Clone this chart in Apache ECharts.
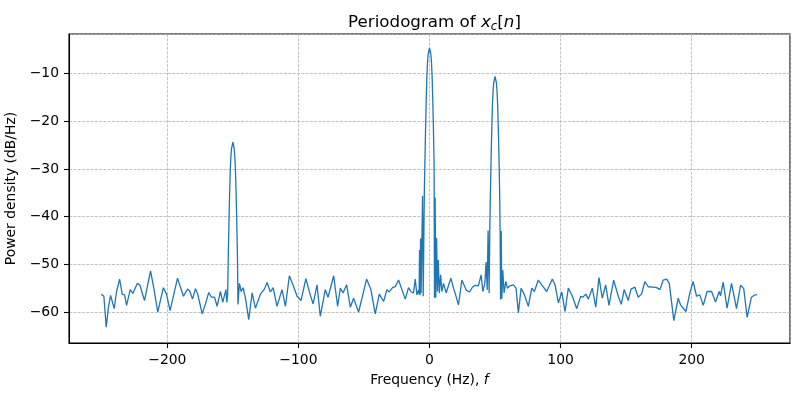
<!DOCTYPE html>
<html>
<head>
<meta charset="utf-8">
<script src="https://cdn.jsdelivr.net/npm/echarts@6/dist/echarts.min.js"></script>
<style>
  html, body { margin: 0; padding: 0; background: #fff; }
  #main { width: 800px; height: 400px; }
</style>
</head>
<body>
<div id="main"></div>
<script>
// frequency axis (Hz)
const freq = [
  -250.4, -248.4, -246.6, -245, -243.3, -242, -240.5, -238.7, -236.4, -234.4,
  -232.6, -231.1, -228.3, -226.3, -222.9, -220.9, -217.4, -212.8, -210.3, -207.3,
  -203, -200.6, -197.9, -192.2, -187.7, -184.6, -182.9, -180.8, -178.5, -176.8,
  -173.4, -170.9, -168.4, -166.3, -164, -162, -159.5, -157.7, -156.2, -155.3,
  -154.6, -154, -153.5, -153, -152.5, -152, -151.5, -151, -150, -149,
  -148.5, -148, -147.5, -147, -146.5, -146.1, -145, -143.7, -142.2, -140.4,
  -137.9, -135.3, -132.8, -129, -125.9, -123.9, -121.4, -119.3, -116.3, -112.5,
  -109.9, -106.9, -103.6, -101, -98, -94.3, -90.9, -88.8, -85.8, -83.3,
  -79.5, -77.4, -73.1, -70.1, -68, -66, -63.2, -60.4, -57.9, -54.1,
  -51.5, -48, -44.7, -41.4, -38.3, -35, -32.5, -30.7, -28.2, -26.1,
  -23.6, -18.5, -16, -13.9, -12.2, -10.9, -9.6, -8.4, -7.9, -7.6,
  -7.2, -6.8, -6.4, -5.8, -5.3, -4.8, -4.3, -3.9, -3.5, -3,
  -2.5, -2, -1.5, -1, 0, 1, 1.5, 2, 2.5, 3,
  3.5, 3.8, 4.3, 4.8, 5.4, 6.1, 6.7, 7.5, 8.5, 9.4,
  10.7, 12.7, 14, 16.3, 18.3, 19.5, 22.1, 24.7, 26, 28,
  30.5, 33, 34.8, 37.3, 39.4, 40.7, 42.2, 43.2, 44, 44.7,
  45.5, 46, 46.5, 47, 47.5, 48, 48.5, 49, 50, 51,
  51.5, 52, 52.5, 53, 53.5, 53.9, 54.2, 54.7, 55.2, 55.9,
  56.9, 58.2, 59.4, 61.5, 64, 65.3, 66, 67.8, 69.9, 72.4,
  75.4, 78, 80, 83, 85.6, 89.4, 90.7, 93.7, 95.8, 98.3,
  100.9, 103.4, 105.9, 109, 112.3, 115.4, 117, 119.2, 121.2, 124.2,
  126.8, 129.3, 131.8, 134.4, 136.9, 140.5, 144, 146.3, 148.5, 151.6,
  153.7, 156.7, 159.2, 161.8, 164.3, 166.9, 170.7, 173.3, 175.8, 178.3,
  180.9, 182.9, 186.4, 189.7, 191.5, 193, 195.6, 198.6, 201.1, 203.7,
  206.2, 208.8, 211.8, 215.2, 218.2, 221, 222, 224, 227, 230.4,
  234.2, 237.3, 239.7, 242.3, 245.6, 248.2, 249.9
];
// power density (dB/Hz)
const power = [
  -56.3, -56.7, -63.2, -59.2, -56.5, -56.9, -59.3, -55.7, -53.1, -56.25,
  -56.4, -58.6, -55.3, -56.1, -54.0, -54.4, -57.6, -51.4, -55, -60,
  -54.9, -56.25, -59.7, -52.9, -56.7, -55.2, -55.6, -57.3, -55.1, -56.25,
  -60.4, -58.3, -55.9, -56.9, -56.9, -58.8, -55.7, -58, -58, -55.3,
  -58, -56.4, -48.4, -41.4, -35.4, -30.4, -27.4, -25.7, -24.4, -25.7,
  -27.4, -30.4, -35.4, -41.4, -48.4, -58.4, -54, -55.7, -54.9, -57.1,
  -61.6, -56, -59.2, -56.25, -55.2, -53.8, -55.8, -54.9, -58.8, -55.3,
  -58.8, -52.4, -54.7, -56.7, -57.6, -53, -56.5, -58.3, -54.3, -60.9,
  -55.3, -56.9, -52.4, -58.8, -55, -56, -54.3, -59, -57.1, -60,
  -57.1, -53.1, -55.3, -60.4, -56.25, -57.8, -55.3, -55.8, -54.9, -54.7,
  -53.3, -57.3, -54.9, -55.8, -56, -53.1, -56.4, -55.4, -56.3, -47,
  -56.5, -44.6, -56, -55.8, -35.6, -56.7, -56.5, -34, -28.6, -21.6,
  -15.6, -10.6, -7.6, -5.9, -4.6, -5.9, -7.6, -10.6, -15.6, -21.6,
  -28.6, -57, -36, -57, -44.5, -55.7, -49.1, -56, -52.2, -55.7,
  -54, -56, -55.7, -52.9, -55, -56, -58.5, -53.3, -53.2, -55.4,
  -55.8, -54.7, -54.4, -54.5, -52.2, -55.7, -54, -49.5, -55.4, -42.9,
  -56, -42.6, -34.6, -27.6, -21.6, -16.6, -13.6, -11.9, -10.6, -11.9,
  -13.6, -16.6, -21.6, -27.6, -34.6, -44, -57.4, -43, -57.2, -51.2,
  -56, -53.6, -55, -54.5, -54.3, -54.7, -55, -60.2, -55, -56.4,
  -58.8, -55, -55.7, -53.3, -54.3, -55.7, -56, -53.1, -54.3, -58.1,
  -55.8, -59.9, -55, -56.7, -59.3, -56.7, -56.9, -56.25, -57.3, -55,
  -59, -52.8, -57.1, -54.3, -58.6, -53.3, -56.7, -58.4, -55.3, -57.6,
  -55.2, -54.8, -56.9, -56.2, -53.6, -54.7, -54.8, -54.9, -55.3, -53.3,
  -53.1, -54, -61.8, -57.1, -58.5, -58.3, -59.9, -56, -53.6, -56.7,
  -56.4, -58.6, -55.7, -55.7, -57.9, -55.7, -56.6, -53.75, -59.2, -54,
  -59.3, -54.4, -55.1, -61.1, -56.9, -56.4, -56.4
];

const FONT = 'DejaVu Sans';
const minus = v => String(v).replace('-', '\u2212');

const myChart = echarts.init(document.getElementById('main'));
const option = {
  animation: false,
  title: {
    text: '{a|Periodogram of }{i|x}{s|c}{a|[}{i|n}{a|]}',
    left: 429.5,
    textAlign: 'center',
    top: 7,
    textStyle: {
      fontWeight: 'normal',
      rich: {
        a: { fontFamily: FONT, fontSize: 16.7, fontWeight: 'normal', color: '#000', lineHeight: 22 },
        i: { fontFamily: FONT, fontSize: 16.7, fontWeight: 'normal', fontStyle: 'italic', color: '#000', lineHeight: 22 },
        s: { fontFamily: FONT, fontSize: 11.7, fontWeight: 'normal', fontStyle: 'italic', color: '#000', lineHeight: 22, padding: [8, 0, 0, 0] }
      }
    }
  },
  grid: {
    left: 69, right: 10, top: 34, bottom: 57,
    outerBoundsMode: 'none',
    show: true, borderColor: '#000', borderWidth: 1.1, backgroundColor: '#fff'
  },
  xAxis: {
    type: 'value',
    min: -275, max: 275,
    name: '{a|Frequency (Hz), }{i|f}',
    nameLocation: 'middle',
    nameGap: 30,
    nameTextStyle: {
      rich: {
        a: { fontFamily: FONT, fontSize: 13.9, color: '#000' },
        i: { fontFamily: FONT, fontSize: 13.9, fontStyle: 'italic', color: '#000' }
      }
    },
    axisLine: { show: true, onZero: false, lineStyle: { color: '#000', width: 1.1 } },
    axisTick: { show: true, length: 5, lineStyle: { color: '#000', width: 1.1 } },
    axisLabel: {
      margin: 10, color: '#000', fontFamily: FONT, fontSize: 13.9,
      showMinLabel: false, showMaxLabel: false, formatter: minus
    },
    splitLine: { show: true, lineStyle: { color: '#b4b4b4', width: 0.8, type: [3, 1.3] } }
  },
  yAxis: {
    type: 'value',
    min: -66.5, max: -1.7,
    name: 'Power density (dB/Hz)',
    nameLocation: 'middle',
    nameGap: 42,
    nameTextStyle: { fontFamily: FONT, fontSize: 13.9, color: '#000' },
    axisLine: { show: true, onZero: false, lineStyle: { color: '#000', width: 1.1 } },
    axisTick: { show: true, length: 5, lineStyle: { color: '#000', width: 1.1 } },
    axisLabel: {
      margin: 10, color: '#000', fontFamily: FONT, fontSize: 13.9,
      showMinLabel: false, showMaxLabel: false, formatter: minus
    },
    splitLine: { show: true, lineStyle: { color: '#b4b4b4', width: 0.8, type: [3, 1.3] } }
  },
  series: [{
    type: 'line',
    data: freq.map((f, i) => [f, power[i]]),
    showSymbol: false,
    lineStyle: { color: '#1f77b4', width: 1.3 },
    z: 3
  }]
};
myChart.setOption(option);
</script>
</body>
</html>
